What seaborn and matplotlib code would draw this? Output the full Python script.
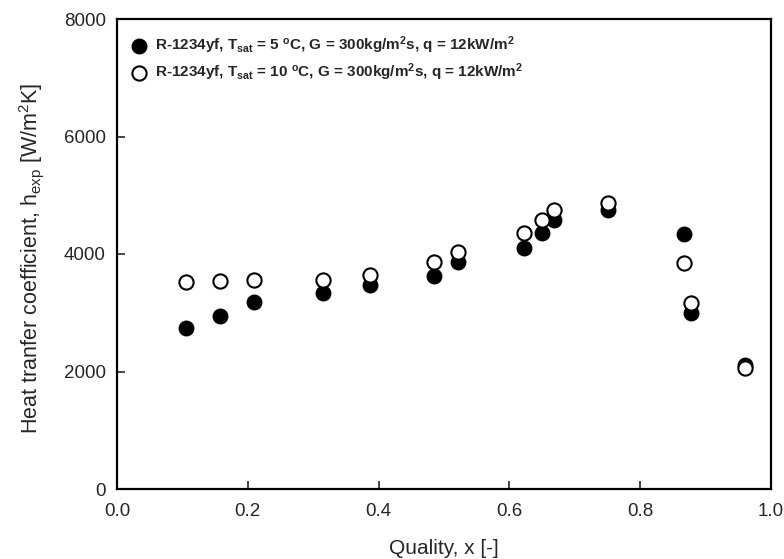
import matplotlib
matplotlib.use("Agg")
import matplotlib.pyplot as plt
import seaborn as sns
import pandas as pd

sns.set_theme(style="white")
plt.rcParams['font.family'] = ['Liberation Sans', 'DejaVu Sans']
plt.rcParams['mathtext.fontset'] = 'custom'
plt.rcParams['mathtext.rm'] = 'Liberation Sans'
plt.rcParams['mathtext.it'] = 'Liberation Sans'
plt.rcParams['mathtext.bf'] = 'Liberation Sans:bold'
plt.rcParams['mathtext.default'] = 'rm'

quality = [0.106, 0.157, 0.209, 0.315, 0.387, 0.484, 0.522, 0.622, 0.650, 0.668, 0.750, 0.867, 0.878, 0.960]
h_tsat5 = [2736, 2952, 3190, 3342, 3466, 3631, 3869, 4095, 4350, 4583, 4748, 4340, 2991, 2114]
h_tsat10 = [3529, 3541, 3551, 3563, 3643, 3857, 4027, 4350, 4583, 4748, 4860, 3840, 3167, 2063]

label5 = r"R-1234yf, T$_{\mathbf{sat}}$ = 5 $^{\mathbf{o}}$C, G = 300kg/m$^{\mathbf{2}}$s, q = 12kW/m$^{\mathbf{2}}$"
label10 = r"R-1234yf, T$_{\mathbf{sat}}$ = 10 $^{\mathbf{o}}$C, G = 300kg/m$^{\mathbf{2}}$s, q = 12kW/m$^{\mathbf{2}}$"

df5 = pd.DataFrame({"x": quality, "h": h_tsat5})
df10 = pd.DataFrame({"x": quality, "h": h_tsat10})

fig = plt.figure(figsize=(7.84, 5.59), dpi=100)
ax = fig.add_axes([117/784, 70/559, 654/784, 470/559])

sns.scatterplot(data=df5, x="x", y="h", ax=ax, color="black", edgecolor="black",
                s=105, linewidth=1.2, label=label5, zorder=3)
sns.scatterplot(data=df10, x="x", y="h", ax=ax, facecolor="white", edgecolor="black",
                s=105, linewidth=1.5, label=label10, zorder=4)

ax.set_xlim(0, 1.0)
ax.set_ylim(0, 8000)
ax.set_xticks([0.0, 0.2, 0.4, 0.6, 0.8, 1.0])
ax.set_xticklabels(["0.0", "0.2", "0.4", "0.6", "0.8", "1.0"])
ax.set_yticks([0, 2000, 4000, 6000, 8000])
ax.tick_params(axis='both', direction='in', length=6, width=1.2, labelsize=13.5,
               bottom=True, left=True, top=False, right=False)
ax.tick_params(axis='x', pad=10)
ax.tick_params(axis='y', pad=8)
for sp in ax.spines.values():
    sp.set_color("black")
    sp.set_linewidth(1.6)

ax.set_xlabel("Quality, x [-]", fontsize=15, labelpad=14)
ax.set_ylabel(r"Heat tranfer coefficient, h$_{\mathrm{exp}}$ [W/m$^2$K]", fontsize=15.5)
ax.yaxis.set_label_coords(-0.108, 0.49)

leg = ax.legend(loc="upper left", frameon=False, prop={'weight': 'bold', 'size': 11},
                handletextpad=0.5, borderaxespad=0.0, labelspacing=0.35, handlelength=1.0,
                bbox_to_anchor=(0.013, 0.981))
for t in leg.get_texts():
    t.set_fontweight('bold')

fig.savefig("out.png", dpi=100)
